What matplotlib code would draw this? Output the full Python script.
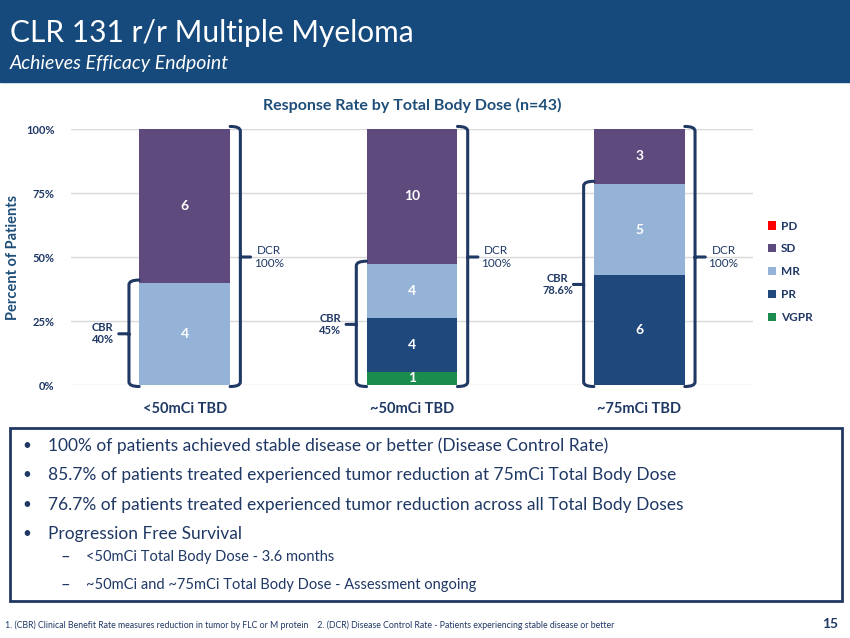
import matplotlib.pyplot as plt
import matplotlib.patches as mpatches
from matplotlib.path import Path
import numpy as np

plt.rcParams['font.family'] = ['Lato', 'DejaVu Sans']

# data
doses = ['<50mCi TBD', '~50mCi TBD', '~75mCi TBD']
vgpr = [0, 1, 0]
pr = [0, 4, 6]
mr = [4, 4, 5]
sd = [6, 10, 3]
pd_ = [0, 0, 0]
cbr_labels = ['CBR\n40%', 'CBR\n45%', 'CBR\n78.6%']
dcr_labels = ['DCR\n100%', 'DCR\n100%', 'DCR\n100%']
yticks = [0, 25, 50, 75, 100]

bullets = [
    '100% of patients achieved stable disease or better (Disease Control Rate)',
    '85.7% of patients treated experienced tumor reduction at 75mCi Total Body Dose',
    '76.7% of patients treated experienced tumor reduction across all Total Body Doses',
    'Progression Free Survival',
]
sub_bullets = [
    '<50mCi Total Body Dose - 3.6 months',
    '~50mCi and ~75mCi Total Body Dose - Assessment ongoing',
]

navy = '#1F3864'
hdr = '#174A7C'
colors = {'VGPR': '#1A8C4E', 'PR': '#1F497D', 'MR': '#95B3D7', 'SD': '#5E4A7C', 'PD': '#FF0000'}

fig = plt.figure(figsize=(8.5, 6.38), dpi=100)
W, H = 850, 638

# header band
fig.patches.append(mpatches.Rectangle((0, 1 - 82 / H), 1, 82 / H, transform=fig.transFigure,
                                      color=hdr, zorder=0))
fig.text(10 / W, 1 - 33 / H, 'CLR 131 r/r Multiple Myeloma', color='white', fontsize=21.5,
         va='center', ha='left')
fig.text(10 / W, 1 - 63 / H, 'Achieves Efficacy Endpoint', color='white', fontsize=14,
         style='italic', va='center', ha='left')

# chart
ax = fig.add_axes([71 / W, 1 - 385 / H, (753 - 71) / W, 256 / H])
x = np.arange(len(doses))
counts = np.array([vgpr, pr, mr, sd, pd_], dtype=float)
totals = counts.sum(axis=0)
pct = counts / totals * 100
names = ['VGPR', 'PR', 'MR', 'SD', 'PD']
bw = 0.4
bottom = np.zeros(len(doses))
bars = {}
for name, cnt, p in zip(names, counts, pct):
    b = ax.bar(x, p, bw, bottom=bottom, color=colors[name], zorder=2, label=name)
    bars[name] = b
    for xi, c, pi, bo in zip(x, cnt, p, bottom):
        if c > 0:
            ax.text(xi, bo + pi / 2, f'{int(c)}', ha='center', va='center', color='white',
                    fontsize=10, fontweight='bold', zorder=3)
    bottom += p

ax.set_xlim(-0.5, 2.5)
ax.set_ylim(0, 100)
ax.set_yticks(yticks)
ax.set_yticklabels([f'{v}%' for v in yticks], fontsize=8, fontweight='bold', color=navy)
ax.set_xticks(x)
ax.set_xticklabels(doses, fontsize=10.5, fontweight='bold', color=navy)
ax.tick_params(length=0, axis='y', pad=12)
ax.tick_params(length=0, axis='x', pad=12)
ax.grid(axis='y', color='#D9D9D9', lw=1, zorder=0)
for s in ax.spines.values():
    s.set_visible(False)
ax.set_ylabel('Percent of Patients', fontsize=10.5, fontweight='bold', color='#1F4E79')
ax.yaxis.set_label_coords(-51 / 682, 0.5)
ax.set_title('Response Rate by Total Body Dose (n=43)', fontsize=11.5, fontweight='bold',
             color='#1F4E79', pad=14)


def brace(ax, xe, y0, y1, side):
    # xe: bar edge, side: +1 right, -1 left
    d = 0.045 * side
    r = 1.8
    xv = xe + d
    xt = xe + 2 * d
    ym = (y0 + y1) / 2
    top = y1 + 1.0
    bot = y0 - 0.6
    verts = [(xe, top), (xv, top), (xv, top - r), (xv, ym + r), (xv, ym), (xt, ym),
             (xv, ym), (xv, ym - r), (xv, bot + r), (xv, bot), (xe, bot)]
    codes = [Path.MOVETO, Path.CURVE3, Path.CURVE3, Path.LINETO, Path.LINETO, Path.LINETO,
             Path.MOVETO, Path.LINETO, Path.LINETO, Path.CURVE3, Path.CURVE3]
    ax.add_patch(mpatches.PathPatch(Path(verts, codes), fill=False, ec=navy, lw=2.2,
                                    clip_on=False, zorder=4, capstyle='round'))
    return xt, ym


cbr_top = pct[0] + pct[1] + pct[2]
for i in range(len(doses)):
    xt, ym = brace(ax, x[i] + bw / 2, 0, 100, 1)
    ax.text(xt + 0.08, ym, dcr_labels[i], ha='center', va='center', fontsize=8.5, color=navy,
            linespacing=1.15)
    xt, ym = brace(ax, x[i] - bw / 2, 0, cbr_top[i], -1)
    ax.text(xt - 0.07, ym, cbr_labels[i], ha='center', va='center', fontsize=8, color=navy,
            fontweight='bold', linespacing=1.15)

handles = [bars[n][0] for n in ['PD', 'SD', 'MR', 'PR', 'VGPR']]
leg = fig.legend(handles, ['PD', 'SD', 'MR', 'PR', 'VGPR'], loc='upper left',
                 bbox_to_anchor=(757 / W, 1 - 210 / H), frameon=False, handlelength=0.7,
                 handleheight=0.7, handletextpad=0.45, labelspacing=1.0,
                 prop={'size': 8.5, 'weight': 'bold'})
for t in leg.get_texts():
    t.set_color(navy)

# text box
fig.patches.append(mpatches.Rectangle((10 / W, 1 - 601 / H), 832 / W, 173 / H,
                                      transform=fig.transFigure, fill=False, ec=navy, lw=2))
for i, b in enumerate(bullets):
    y = 1 - (446 + 29.3 * i) / H
    fig.text(22 / W, y, '•', fontsize=11, color=navy, va='center')
    fig.text(48 / W, y, b, fontsize=12.5, color=navy, va='center')
for i, b in enumerate(sub_bullets):
    y = 1 - (557 + 28 * i) / H
    fig.text(60 / W, y, '–', fontsize=12, color=navy, va='center')
    fig.text(86 / W, y, b, fontsize=10.5, color=navy, va='center')

fig.text(5 / W, 1 - 625 / H, '1. (CBR) Clinical Benefit Rate measures reduction in tumor by FLC or M protein'
         '    2. (DCR) Disease Control Rate - Patients experiencing stable disease or better',
         fontsize=6.3, color=navy, va='center')
fig.text(838 / W, 1 - 624 / H, '15', fontsize=10, fontweight='bold', color=navy, va='center',
         ha='right')

fig.savefig('out.png', dpi=100)
